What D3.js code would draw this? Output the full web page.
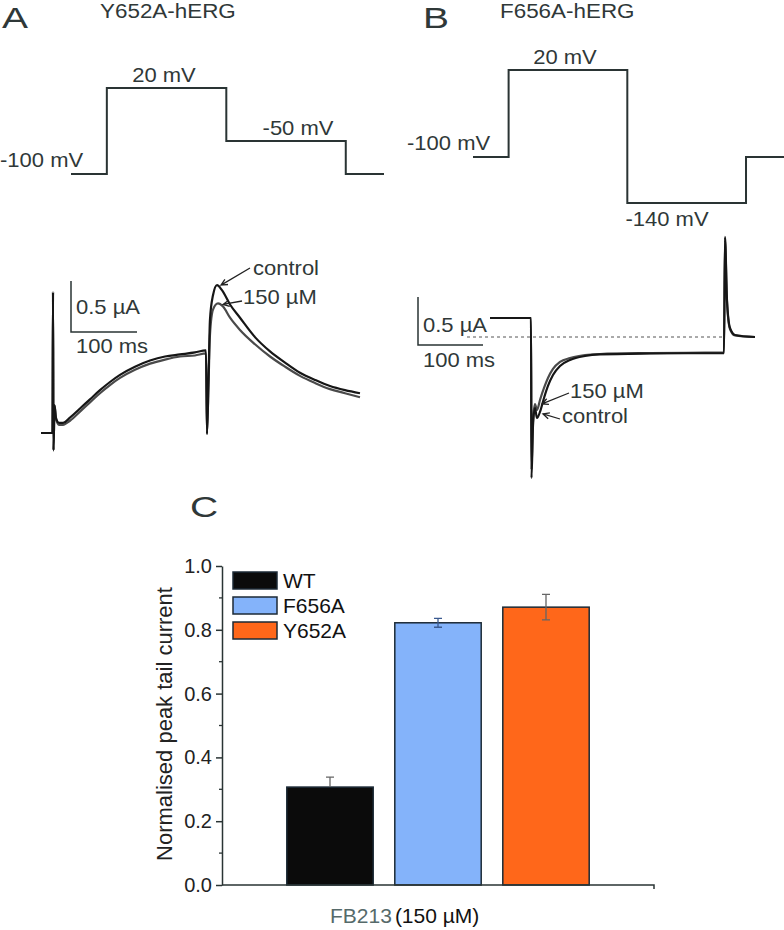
<!DOCTYPE html>
<html>
<head>
<meta charset="utf-8">
<script src="https://d3js.org/d3.v7.min.js"></script>
<style>
  body { margin: 0; background: #fff; }
  text { font-family: "Liberation Sans", Arial, sans-serif; }
</style>
</head>
<body>
<div id="fig"></div>
<script>
// ---- data ----
// voltage protocols (schematic step times in ms, levels in mV)
var stepTimes = [0, 150, 650, 1150, 1310];
var protocolA = [-100, 20, -50, -100];
var protocolB = [-100, 20, -140, -100];

// current traces [time ms, current uA]
var traceA_control = [[0,0],[17.4,0],[18.2,1.38],[18.9,-0.17],[20.5,0.27],[22.7,0.15],[27.3,0.10],[33.3,0.10],
  [43.9,0.15],[59.1,0.24],[74.2,0.33],[89.4,0.42],[104.5,0.50],[119.7,0.57],[142.4,0.65],[165.2,0.71],
  [187.9,0.75],[210.6,0.77],[233.3,0.79],[250,0.81],[251.5,-0.01],[253.8,0.52],[256,1.11],[260.6,1.35],
  [266.7,1.45],[274.2,1.40],[286.4,1.26],[301.5,1.13],[324.2,0.94],[347,0.80],[369.7,0.69],[392.4,0.59],
  [415.2,0.52],[437.9,0.46],[460.6,0.42],[483.3,0.39]];
var traceA_150 = [[0,0],[17.4,0],[18.2,1.38],[18.9,-0.17],[20.5,0.27],[22.7,0.14],[27.3,0.08],[33.3,0.08],
  [43.9,0.12],[59.1,0.21],[74.2,0.30],[89.4,0.39],[104.5,0.47],[119.7,0.54],[142.4,0.62],[165.2,0.68],
  [187.9,0.72],[210.6,0.75],[233.3,0.76],[250,0.78],[251.5,-0.01],[253.8,0.47],[256,0.96],[260.6,1.21],
  [268.2,1.27],[275.8,1.24],[286.4,1.13],[301.5,1.01],[324.2,0.87],[347,0.75],[369.7,0.65],[392.4,0.56],
  [415.2,0.49],[437.9,0.43],[460.6,0.39],[483.3,0.35]];

var traceB_control = [[0,0.198],[63.1,0.198],[63.8,-1.469],[66.2,-0.917],[69.2,-0.740],[72.3,-0.844],
  [76.9,-0.781],[83.1,-0.635],[89.2,-0.510],[96.9,-0.396],[107.7,-0.302],[123.1,-0.240],[146.2,-0.198],
  [169.2,-0.182],[246.2,-0.172],[360,-0.167],[361.5,1.042],[364.6,0.385],[369.2,0.094],[376.9,0.021],[407.7,0]];
var traceB_150 = [[0,0.198],[63.1,0.198],[63.8,-1.385],[66.2,-0.865],[69.2,-0.698],[72.3,-0.760],
  [76.9,-0.656],[83.1,-0.531],[89.2,-0.427],[96.9,-0.333],[107.7,-0.260],[123.1,-0.219],[146.2,-0.188],
  [169.2,-0.177],[246.2,-0.167],[360,-0.161],[361.5,1.01],[364.6,0.365],[369.2,0.083],[376.9,0.016],[407.7,0]];

// bar chart
var groups = ["WT", "F656A", "Y652A"];
var means = [0.307, 0.822, 0.871];
var sems = [0.031, 0.014, 0.040];
var barColors = ["#0b0b0b", "#84b3fa", "#ff671a"];
var yTicks = [0, 0.2, 0.4, 0.6, 0.8, 1.0];
var yMinor = [0.1, 0.3, 0.5, 0.7, 0.9];

// ---- figure ----
var W = 784, H = 930;
var svg = d3.select("#fig").append("svg")
    .attr("width", W)
    .attr("height", H)
    .style("background-color", "white");

var ink = "#2a3434";

// text with the slight horizontal stretch seen in panels A and B
function label(x, y, s, size, anchor, sx) {
  return svg.append("text")
    .attr("transform", "translate(" + x + "," + y + ") scale(" + (sx || 1.1) + ",1)")
    .attr("text-anchor", anchor || "start")
    .style("font-size", size + "px")
    .style("fill", "#2f3838")
    .text(s);
}

function arrow(x1, y1, x2, y2) {
  var a = Math.atan2(y1 - y2, x1 - x2), L = 7, s = 0.45;
  svg.append("path")
    .attr("d", "M" + x1 + "," + y1 + "L" + x2 + "," + y2 +
      "M" + (x2 + L * Math.cos(a + s)) + "," + (y2 + L * Math.sin(a + s)) + "L" + x2 + "," + y2 +
      "L" + (x2 + L * Math.cos(a - s)) + "," + (y2 + L * Math.sin(a - s)))
    .style("fill", "none")
    .style("stroke", "#222")
    .style("stroke-width", 1.3);
}

function protocolPoints(levels) {
  var pts = levels.map(function(v, i) { return [stepTimes[i], v]; });
  pts.push([stepTimes[stepTimes.length - 1], levels[levels.length - 1]]);
  return pts;
}

// panel letters and titles
label(2, 28, "A", 30, "start", 1.3);
label(423, 28, "B", 30, "start", 1.3);
label(100, 18, "Y652A-hERG", 19.5, "start", 1.15);
label(500, 18, "F656A-hERG", 19.5, "start", 1.15);

// ---- voltage protocols ----
var xPA = d3.scaleLinear().domain([0, 1310]).range([71, 384]);
var yPA = d3.scaleLinear().domain([-100, -50, 20]).range([174, 141, 88]);
var xPB = d3.scaleLinear().domain([0, 1310]).range([473, 784]);
var yPB = d3.scaleLinear().domain([-140, -100, 20]).range([203, 157, 70]);

svg.append("path")
  .datum(protocolPoints(protocolA))
  .attr("d", d3.line().x(function(d) { return xPA(d[0]); }).y(function(d) { return yPA(d[1]); }).curve(d3.curveStepAfter))
  .style("fill", "none").style("stroke", ink).style("stroke-width", 2);
svg.append("path")
  .datum(protocolPoints(protocolB))
  .attr("d", d3.line().x(function(d) { return xPB(d[0]); }).y(function(d) { return yPB(d[1]); }).curve(d3.curveStepAfter))
  .style("fill", "none").style("stroke", ink).style("stroke-width", 2);

label(0, yPA(-100) - 7, "-100 mV", 20);
label(164, yPA(20) - 6, "20 mV", 20, "middle");
label(298, yPA(-50) - 6, "-50 mV", 20, "middle");
label(407, yPB(-100) - 7, "-100 mV", 20);
label(565, yPB(20) - 6, "20 mV", 20, "middle");
label(667, yPB(-140) + 23, "-140 mV", 20, "middle");

// ---- current traces ----
var xA = d3.scaleLinear().domain([0, 500]).range([41, 371]);
var yA = d3.scaleLinear().domain([0, 1]).range([433, 331]);
var xB = d3.scaleLinear().domain([0, 500]).range([490, 815]);
var yB = d3.scaleLinear().domain([0, 1]).range([337, 241]);

var lineA = d3.line().x(function(d) { return xA(d[0]); }).y(function(d) { return yA(d[1]); }).curve(d3.curveMonotoneX);
var lineB = d3.line().x(function(d) { return xB(d[0]); }).y(function(d) { return yB(d[1]); }).curve(d3.curveMonotoneX);

// zero-current reference in B
svg.append("line")
  .attr("x1", 467).attr("x2", xB(361))
  .attr("y1", yB(0)).attr("y2", yB(0))
  .style("stroke", "#555").style("stroke-width", 1).style("stroke-dasharray", "3,3");

[[traceA_150, "#4a4a4a"], [traceA_control, "#161616"]].forEach(function(t) {
  svg.append("path").datum(t[0]).attr("d", lineA)
    .style("fill", "none").style("stroke", t[1]).style("stroke-width", 2.2);
});
[[traceB_150, "#4a4a4a"], [traceB_control, "#161616"]].forEach(function(t) {
  svg.append("path").datum(t[0]).attr("d", lineB)
    .style("fill", "none").style("stroke", t[1]).style("stroke-width", 2.2);
});

// scale bars
function scaleBar(x0, yTop, xs, ys) {
  var h = ys(0) - ys(0.5), w = xs(100) - xs(0);
  svg.append("path")
    .attr("d", "M" + x0 + "," + yTop + "v" + h + "h" + w)
    .style("fill", "none").style("stroke", ink).style("stroke-width", 1.5);
}
scaleBar(71, 281, xA, yA);
scaleBar(418, 297, xB, yB);
label(76, 314, "0.5 \u00b5A", 20);
label(76, 353, "100 ms", 20);
label(423, 332, "0.5 \u00b5A", 20);
label(423, 367, "100 ms", 20);

// annotations
label(253, 275, "control", 20);
arrow(250, 268, xA(266.7) + 4, yA(1.45));
label(243, 304, "150 \u00b5M", 20);
arrow(242, 301, xA(268.2) + 5, yA(1.27) + 1);
label(570, 398, "150 \u00b5M", 20);
arrow(569, 393, xB(76.9) + 2, yB(-0.656) + 4);
label(562, 423, "control", 20);
arrow(560, 419, xB(76.9) + 3, yB(-0.781) + 2);

// ---- panel C: bar chart ----
label(190, 517, "C", 30, "start", 1.3);

var yC = d3.scaleLinear().domain([0, 1]).range([885, 566]);
var xC = d3.scaleBand().domain(groups).range([222, 654]).paddingInner(0.2).paddingOuter(0.6);

var yAxis = svg.append("g")
  .attr("transform", "translate(222,0)")
  .call(d3.axisLeft(yC).tickValues(yTicks).tickFormat(d3.format(".1f")).tickSize(6).tickSizeOuter(0).tickPadding(4));
yAxis.select(".domain").style("stroke", ink).style("stroke-width", 1.5);
yAxis.selectAll(".tick line").style("stroke", ink).style("stroke-width", 1.5);
yAxis.selectAll(".tick text")
  .style("font-size", "20px")
  .style("font-family", "'Liberation Sans', Arial, sans-serif")
  .style("fill", "#222");

svg.append("g").selectAll("line")
  .data(yMinor).enter().append("line")
  .attr("x1", 219).attr("x2", 222)
  .attr("y1", function(d) { return yC(d); }).attr("y2", function(d) { return yC(d); })
  .style("stroke", ink).style("stroke-width", 1.3);

svg.append("g").selectAll("rect")
  .data(groups).enter().append("rect")
  .attr("x", function(d) { return xC(d); })
  .attr("y", function(d, i) { return yC(means[i]); })
  .attr("width", xC.bandwidth())
  .attr("height", function(d, i) { return yC(0) - yC(means[i]); })
  .style("fill", function(d, i) { return barColors[i]; })
  .style("stroke", "#1c2a36")
  .style("stroke-width", 1.5);

// error bars
var errG = svg.append("g");
groups.forEach(function(g, i) {
  var cx = xC(g) + xC.bandwidth() / 2;
  var lo = i === 0 ? means[i] : means[i] - sems[i], hi = means[i] + sems[i];
  errG.append("path")
    .attr("d", "M" + cx + "," + yC(lo) + "V" + yC(hi) + "M" + (cx - 4) + "," + yC(hi) + "h8" +
      (i === 0 ? "" : "M" + (cx - 4) + "," + yC(lo) + "h8"))
    .style("fill", "none").style("stroke", i === 1 ? "#3a5a90" : "#666").style("stroke-width", 1.3);
});

// x axis
svg.append("path")
  .attr("d", "M222," + yC(0) + "H" + xC.range()[1] + "v4")
  .style("fill", "none").style("stroke", ink).style("stroke-width", 1.5);

// legend
var leg = svg.append("g");
groups.forEach(function(g, i) {
  leg.append("rect")
    .attr("x", 233).attr("y", 572 + i * 25)
    .attr("width", 44).attr("height", 17)
    .style("fill", barColors[i]).style("stroke", "#1c2a36").style("stroke-width", 1.5);
  leg.append("text")
    .attr("x", 283).attr("y", 588 + i * 25)
    .style("font-size", "21px").style("fill", "#111")
    .text(g);
});

// axis titles
svg.append("text")
  .attr("transform", "translate(172,724) rotate(-90)")
  .attr("text-anchor", "middle")
  .style("font-size", "22px").style("fill", "#222")
  .text("Normalised peak tail current");

var xt = svg.append("text")
  .attr("x", 330).attr("y", 923)
  .style("font-size", "21px");
xt.append("tspan").style("fill", "#566a6a").text("FB213");
xt.append("tspan").attr("dx", 3).style("fill", "#111").text("(150 \u00b5M)");
</script>
</body>
</html>
